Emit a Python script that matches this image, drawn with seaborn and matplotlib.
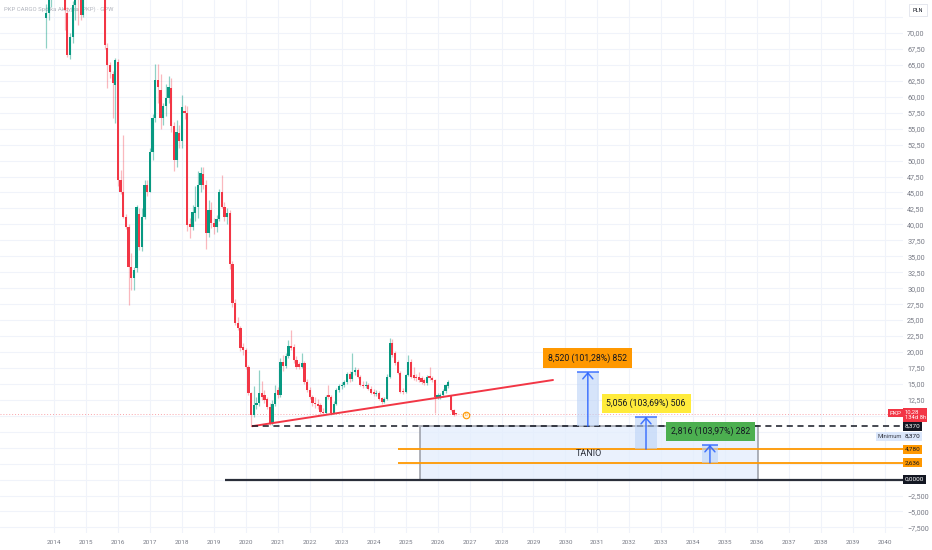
import numpy as np
import pandas as pd
import seaborn as sns
import matplotlib.pyplot as plt
from matplotlib.patches import Rectangle
from matplotlib.transforms import blended_transform_factory

# monthly candles, first one is Oct 2013
start_month = "2013-10-01"
opens = [72.3, 73.1, 76.5, 78.0, 82.0, 80.5, 79.0, 78.5, 73.1, 66.6, 69.4, 74.4, 77.0, 75.8, 72.8,
         76.8, 80.5, 84.5, 88.0, 86.0, 83.0, 81.0, 79.0, 67.6, 65.0, 63.6, 61.8,
         65.5, 47.0, 45.1, 41.2, 39.6, 33.4, 31.6, 33.1, 41.7, 36.5, 41.2, 46.2,
         45.1, 51.4, 56.6, 62.6, 61.1, 56.6, 58.5, 59.8, 61.3, 55.4, 50.1, 54.3,
         53.1, 57.7, 57.4, 40.1, 39.6, 41.8, 42.8, 46.2, 47.9, 46.2, 38.7, 42.3,
         40.2, 39.6, 40.8, 45.0, 42.8, 41.2, 41.8, 33.8, 27.7, 24.5, 23.7, 20.8,
         20.3, 17.7, 13.5, 10.1, 11.7, 12.0, 13.6, 13.3, 12.6, 11.4, 8.8, 11.9,
         14.0, 13.2, 18.5, 17.8, 19.3, 20.9, 20.8, 18.8, 18.1, 17.7, 18.2, 15.3,
         14.0, 13.0, 12.0, 11.8, 11.7, 10.6, 10.4, 13.2, 13.0, 10.5, 11.9, 14.1,
         14.6, 14.9, 15.35, 16.6, 15.7, 16.9, 17.1, 16.1, 14.9, 14.6, 14.9, 14.2,
         13.8, 13.4, 13.6, 12.8, 12.2, 12.6, 16.1, 21.4, 19.8, 18.4, 16.7, 13.9,
         13.7, 16.4, 18.5, 16.4, 16.1, 16.1, 15.9, 15.6, 15.1, 16.3, 15.9, 15.6,
         12.9, 13.0, 13.2, 13.9, 14.6, 13.1, 10.9, 10.3]
highs = [74.5, 77.5, 79.0, 84.0, 86.0, 83.5, 82.0, 80.0, 74.0, 70.0, 75.0, 79.0, 79.5, 77.0, 78.0,
         82.0, 86.0, 90.0, 92.0, 89.0, 86.0, 84.0, 80.0, 68.4, 65.5, 64.0, 66.1,
         66.0, 48.5, 54.0, 41.6, 40.0, 35.5, 33.4, 43.0, 42.5, 42.5, 47.0, 47.0,
         52.0, 57.3, 65.2, 65.1, 63.5, 59.0, 62.0, 63.2, 63.0, 56.0, 56.4, 55.5,
         60.3, 58.7, 58.5, 41.0, 43.0, 46.0, 48.3, 49.0, 49.0, 47.0, 43.8, 43.5,
         41.0, 41.5, 45.5, 47.7, 43.5, 42.5, 42.3, 34.2, 28.3, 25.5, 24.0, 21.4,
         20.6, 18.0, 13.8, 14.6, 13.0, 17.2, 15.5, 14.0, 13.0, 12.0, 12.5, 14.8,
         14.5, 19.0, 19.5, 19.8, 21.9, 23.4, 21.2, 19.3, 18.5, 19.9, 18.6, 15.8,
         14.5, 13.3, 13.0, 12.6, 12.0, 11.2, 13.3, 14.8, 13.3, 12.3, 14.3, 15.0,
         15.3, 15.6, 16.9, 17.0, 19.8, 17.6, 17.5, 16.4, 15.5, 15.4, 15.2, 14.6,
         14.2, 14.0, 13.9, 13.0, 12.9, 16.5, 22.2, 22.0, 20.1, 18.7, 17.0, 14.3,
         16.6, 19.5, 18.9, 17.6, 16.5, 16.8, 16.3, 15.9, 16.4, 17.7, 16.2, 15.8,
         13.6, 13.6, 14.2, 15.0, 15.6, 13.3, 11.1, 10.4]
lows = [67.6, 72.0, 74.0, 76.5, 79.0, 77.0, 76.0, 70.5, 66.2, 66.0, 68.5, 72.0, 71.3, 72.0, 72.5,
        76.0, 79.0, 82.0, 84.0, 81.0, 78.0, 76.5, 67.5, 61.4, 63.0, 56.7, 55.9,
        46.0, 44.8, 41.0, 39.3, 27.4, 29.7, 29.7, 32.5, 36.0, 35.8, 40.8, 44.5,
        45.0, 50.1, 56.0, 59.0, 55.0, 55.5, 57.0, 59.0, 54.5, 48.3, 49.0, 52.0,
        52.0, 56.5, 39.0, 37.8, 39.1, 40.5, 41.0, 45.0, 45.5, 36.2, 38.0, 39.5,
        38.5, 38.8, 40.5, 42.5, 40.5, 40.0, 33.0, 27.0, 24.2, 23.4, 20.2, 19.5,
        17.4, 13.2, 8.37, 9.8, 11.0, 11.6, 12.5, 12.0, 11.0, 8.6, 8.6, 11.5,
        12.8, 13.0, 17.0, 17.5, 19.0, 20.3, 18.3, 17.4, 17.3, 17.5, 15.0, 13.7,
        12.6, 11.5, 11.3, 11.1, 10.3, 10.2, 10.3, 12.7, 10.2, 10.3, 11.7, 13.8,
        14.2, 14.5, 15.0, 15.3, 15.5, 16.4, 15.9, 14.7, 14.3, 14.3, 14.0, 13.4,
        13.1, 13.1, 12.4, 11.9, 12.0, 12.4, 15.9, 19.2, 18.0, 16.5, 13.6, 13.4,
        13.5, 16.2, 15.9, 15.6, 15.5, 15.3, 15.0, 14.8, 14.9, 15.6, 15.3, 10.4,
        12.6, 12.7, 13.0, 13.6, 14.3, 10.7, 9.9, 10.1]
closes = [73.1, 76.5, 78.0, 82.0, 80.5, 79.0, 78.5, 73.6, 66.6, 69.4, 74.4, 77.0, 75.8, 72.8, 76.8,
          80.5, 84.5, 88.0, 86.0, 83.0, 81.0, 79.0, 68.1, 65.0, 63.9, 62.2, 65.8,
          47.0, 45.1, 41.2, 39.6, 33.4, 31.6, 32.9, 42.8, 36.5, 41.2, 46.2, 45.1,
          51.4, 56.6, 62.6, 61.6, 56.6, 58.5, 59.8, 61.6, 55.4, 50.1, 54.5, 53.1,
          58.4, 57.4, 39.9, 39.6, 42.0, 42.8, 46.2, 48.0, 46.2, 38.7, 42.3, 40.2,
          39.6, 40.8, 45.0, 42.8, 41.2, 41.8, 33.8, 27.7, 24.5, 23.7, 20.6, 20.3,
          17.7, 13.5, 10.1, 11.7, 12.0, 13.6, 13.0, 12.5, 11.4, 8.8, 11.9, 13.5,
          13.2, 18.5, 17.8, 19.3, 20.9, 20.7, 18.8, 17.7, 17.7, 18.3, 15.3, 14.0,
          13.0, 12.0, 11.8, 11.5, 10.6, 10.4, 13.0, 13.0, 10.5, 11.9, 14.1, 14.6,
          14.9, 15.35, 16.6, 15.7, 16.9, 17.1, 16.1, 14.9, 14.6, 14.9, 14.2, 13.6,
          13.4, 13.6, 12.6, 12.2, 12.6, 16.1, 21.4, 19.5, 18.3, 16.7, 13.8, 13.7,
          16.4, 18.5, 16.1, 15.9, 15.9, 15.6, 15.3, 15.1, 16.1, 15.9, 15.6, 12.9,
          13.2, 13.3, 13.9, 14.8, 15.3, 10.9, 10.1, 10.28]

# drawings
trend_x = [2020.20, 2029.61]
trend_y = [8.37, 15.61]
support_start = 2020.20
support_level = 8.37
zero_start = 2019.35
orange_start = 2024.76
orange_levels = [4.780, 2.636]
zone_x = [2025.45, 2036.03]
zone_y = [0.0, 8.37]
zone_label = "TANIO"

meas_x0 = [2030.35, 2032.18, 2034.26]
meas_x1 = [2031.05, 2032.86, 2034.78]
meas_base = [8.370, 4.780, 2.636]
meas_move = [8.520, 5.056, 2.816]
meas_text = ["8,520 (101,28%) 852", "5,056 (103,69%) 506", "2,816 (103,97%) 282"]
meas_label_x = [2030.68, 2032.52, 2034.53]
meas_label_y = [19.06, 11.96, 7.51]
meas_colors = ["#FF9800", "#FFEB3B", "#4CAF50"]

last_price = 10.28
years = list(range(2014, 2041))
price_ticks = np.arange(-7.5, 72.6, 2.5)

UP, DOWN = "#089981", "#F23645"

sns.set_theme(style="white")
plt.rcParams["font.family"] = ["Roboto", "DejaVu Sans"]

fig = plt.figure(figsize=(9.32, 5.5), dpi=100)
ax = fig.add_axes([0, 17 / 550, 903 / 932, 533 / 550])
ax.set_xlim(2012.31, 2040.56)
ax.set_ylim(-8.37, 75.17)
for s in ax.spines.values():
    s.set_visible(False)

# grid
for yv in price_ticks:
    ax.axhline(yv, color="#f0f3fa", lw=0.8, zorder=0)
for yr in years:
    ax.axvline(yr, color="#f0f3fa", lw=0.8, zorder=0)

ax.text(0.004, 0.988, "PKP CARGO Spółka Akcyjna (PKP) · GPW", transform=ax.transAxes,
        fontsize=4.3, color="#b2b5be", va="top", ha="left", zorder=0.5)

# candles
dates = pd.date_range(start_month, periods=len(closes), freq="MS")
xs = np.asarray(dates.year + (dates.month - 1) / 12.0)
o, h, l, c = map(np.asarray, (opens, highs, lows, closes))
up = c >= o
wick_cols = [(0.03, 0.6, 0.5, 0.45) if u else (0.95, 0.21, 0.27, 0.35) for u in up]
body_cols = [UP if u else DOWN for u in up]
ax.vlines(xs, l, h, colors=wick_cols, lw=0.9, zorder=2)
body_h = np.maximum(np.abs(c - o), 0.15)
ax.bar(xs, body_h, bottom=np.minimum(o, c), width=0.07, color=body_cols, lw=0, zorder=3)

# last price dotted line
ax.axhline(last_price, color=DOWN, alpha=0.45, lw=0.7, ls=(0, (1, 2)), zorder=1)

# dividend marker
ax.scatter([2026.88], [10.2], s=22, facecolor="#fff3e0", edgecolor="#FF9800", lw=0.8, zorder=4)
ax.text(2026.88, 10.2, "D", fontsize=3, color="#FF9800", ha="center", va="center", zorder=5)

# trend line
sns.lineplot(x=trend_x, y=trend_y, ax=ax, color="#F23645", lw=1.4, zorder=4)

# support / levels
ax.hlines(support_level, support_start, 2040.56, colors="#131722", lw=1.1,
          linestyles=(0, (4, 3)), zorder=5)
ax.hlines(0, zero_start, 2040.56, colors="#2a2e39", lw=1.6, zorder=5)
for lv in orange_levels:
    ax.hlines(lv, orange_start, 2040.56, colors="#FF9800", lw=1.3, zorder=4)

# zone box
ax.add_patch(Rectangle((zone_x[0], zone_y[0]), zone_x[1] - zone_x[0], zone_y[1] - zone_y[0],
                       facecolor="#e3edfd", alpha=0.75, edgecolor="#9598a1", lw=1.4, zorder=3))
ax.text(sum(zone_x) / 2, 4.08, zone_label, fontsize=6.5, color="#2a2e39",
        ha="center", va="center", zorder=6)

# price range measurements
for x0, x1, b, m, txt, lx, ly, col in zip(meas_x0, meas_x1, meas_base, meas_move, meas_text,
                                         meas_label_x, meas_label_y, meas_colors):
    ax.add_patch(Rectangle((x0, b), x1 - x0, m, facecolor="#bcd3f7", alpha=0.6, lw=0, zorder=6))
    ax.hlines(b + m, x0, x1, colors="#2962FF", lw=1.2, alpha=0.8, zorder=7)
    xc = (x0 + x1) / 2
    ax.annotate("", xy=(xc, b + m), xytext=(xc, b),
                arrowprops=dict(arrowstyle="->,head_length=0.35,head_width=0.3",
                                color="#2962FF", lw=1.1, alpha=0.85, shrinkA=0, shrinkB=0),
                zorder=7)
    ax.text(lx, ly, txt, fontsize=6.3, color="#131722", ha="center", va="center", zorder=8,
            bbox=dict(boxstyle="square,pad=0.55", facecolor=col, edgecolor="none"))

# right price scale
ax.yaxis.tick_right()
ax.set_yticks(price_ticks)
hidden = {0.0, 2.5, 5.0, 7.5, 10.0, 72.5}
labels = []
for v in price_ticks:
    if round(v, 2) in hidden:
        labels.append("")
    elif v < 0:
        labels.append(("\u2212%.3f" % abs(v)).replace(".", ","))
    else:
        labels.append(("%.2f" % v).replace(".", ","))
ax.set_yticklabels(labels)
ax.tick_params(axis="y", length=0, pad=3, labelsize=5.2, labelcolor="#787b86")

ax.set_xticks(years)
ax.set_xticklabels([str(y) for y in years])
ax.tick_params(axis="x", length=0, pad=5, labelsize=4.6, labelcolor="#787b86")
ax.set_xlabel("")
ax.set_ylabel("")

# price tags on the scale
tr = blended_transform_factory(ax.transAxes, ax.transData)
tx = 904.5 / 903


def tag(y, text, fc, tc, x=tx, ha="left", size=4.6):
    ax.text(x, y, text, transform=tr, fontsize=size, color=tc, ha=ha, va="center",
            clip_on=False, zorder=10,
            bbox=dict(boxstyle="square,pad=0.3", facecolor=fc, edgecolor="none"))


ax.text(tx, last_price - 0.15, "10,28\n134d 8h", transform=tr, fontsize=4.2, color="white",
        ha="left", va="center", clip_on=False, zorder=10, linespacing=1.1,
        bbox=dict(boxstyle="square,pad=0.3", facecolor=DOWN, edgecolor="none"))
tag(last_price + 0.15, "PKP", DOWN, "white", x=902 / 903, ha="right")
tag(support_level, "8,370", "#131722", "white")
tag(6.76, "8,370", "#dbe7fb", "#131722")
tag(6.76, "Minimum", "#dbe7fb", "#434651", x=902 / 903, ha="right", size=4.2)
tag(orange_levels[0], "4,780", "#FF9800", "#131722")
tag(orange_levels[1], "2,636", "#FF9800", "#131722")
tag(0, "0,0000", "#131722", "white")

fig.text(918 / 932, 1 - 10 / 550, "PLN", fontsize=4, color="#131722", ha="center", va="center",
         bbox=dict(boxstyle="square,pad=0.6", facecolor="white", edgecolor="#e0e3eb", lw=0.6))

fig.savefig("out.png", dpi=100)
